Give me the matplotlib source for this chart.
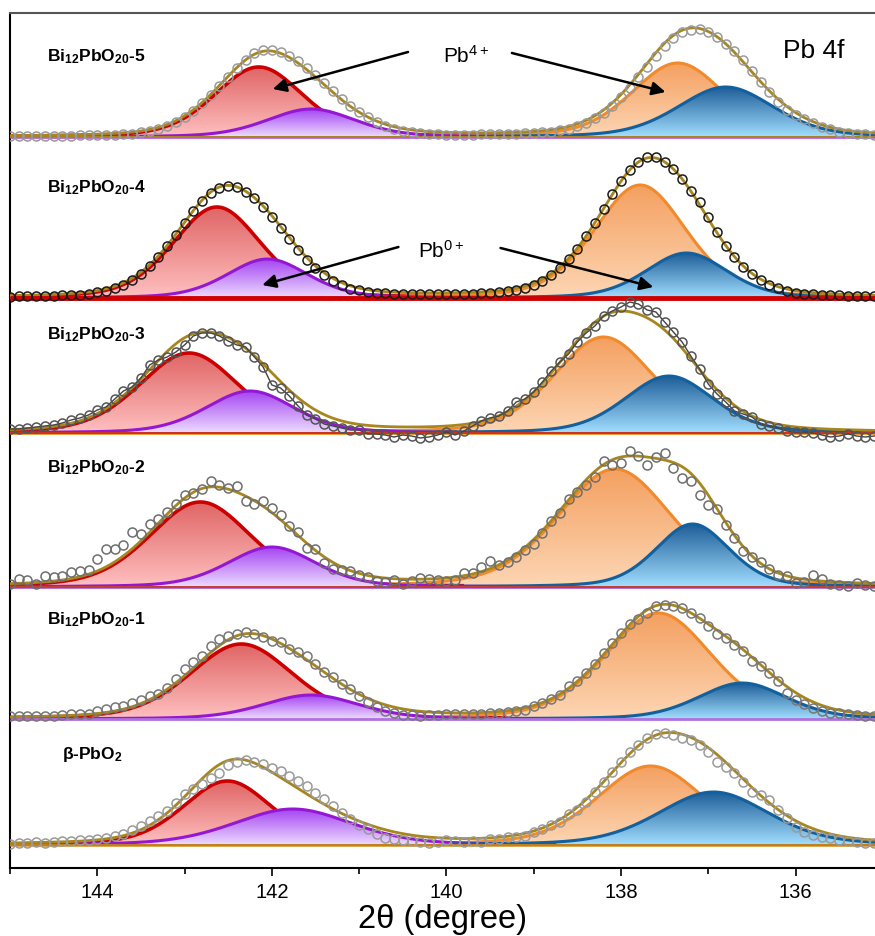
import numpy as np
import matplotlib
matplotlib.use("Agg")
import matplotlib.pyplot as plt
from matplotlib.colors import LinearSegmentedColormap
from matplotlib.patches import Polygon
from matplotlib.ticker import MultipleLocator

plt.rcParams['font.family'] = ['Liberation Sans', 'DejaVu Sans']
plt.rcParams['mathtext.fontset'] = 'custom'
plt.rcParams['mathtext.rm'] = 'Liberation Sans'
plt.rcParams['mathtext.bf'] = 'Liberation Sans:bold'
plt.rcParams['mathtext.it'] = 'Liberation Sans:italic'

# measured points, 0.1 step from 145.0 down to 135.0
energy = np.round(np.linspace(145.0, 135.0, 101), 1)

samples = [r'Bi$_{\mathbf{12}}$PbO$_{\mathbf{20}}$-5',
           r'Bi$_{\mathbf{12}}$PbO$_{\mathbf{20}}$-4',
           r'Bi$_{\mathbf{12}}$PbO$_{\mathbf{20}}$-3',
           r'Bi$_{\mathbf{12}}$PbO$_{\mathbf{20}}$-2',
           r'Bi$_{\mathbf{12}}$PbO$_{\mathbf{20}}$-1',
           r'β-PbO$_{\mathbf{2}}$']

# intensities (a.u.), one row = 1 eV
spec_5 = [1, 1, 1, 1, 1, 1, 1, 1, 2, 2,
          2, 2, 2, 3, 3, 5, 6, 8, 11, 15,
          20, 26, 34, 42, 51, 60, 69, 77, 84, 87,
          87, 85, 81, 76, 69, 62, 54, 46, 38, 31,
          25, 20, 15, 11, 8, 6, 5, 4, 3, 3,
          2, 2, 2, 2, 3, 3, 3, 3, 3, 4,
          4, 5, 5, 7, 8, 11, 14, 19, 24, 31,
          40, 49, 60, 70, 81, 91, 99, 105, 107, 108,
          105, 100, 93, 86, 77, 66, 55, 45, 35, 27,
          22, 18, 14, 10, 8, 5, 4, 3, 3, 2,
          2]
spec_4 = [1, 2, 2, 2, 2, 2, 3, 3, 3, 4,
          6, 7, 10, 13, 18, 24, 32, 41, 52, 63,
          75, 87, 97, 105, 110, 112, 111, 106, 100, 91,
          81, 70, 59, 48, 38, 30, 23, 17, 13, 9,
          8, 6, 5, 5, 4, 4, 4, 4, 4, 4,
          4, 4, 4, 4, 5, 5, 6, 7, 8, 10,
          13, 17, 23, 30, 39, 49, 62, 75, 89, 104,
          117, 128, 136, 141, 141, 136, 129, 119, 107, 96,
          81, 66, 52, 41, 31, 24, 18, 13, 10, 7,
          5, 4, 4, 3, 3, 3, 2, 2, 2, 2,
          2]
spec_3 = [4, 4, 5, 6, 7, 8, 10, 13, 15, 18,
          23, 26, 34, 42, 46, 55, 68, 73, 76, 81,
          88, 97, 100, 100, 97, 92, 88, 86, 76, 66,
          48, 45, 37, 27, 18, 14, 9, 7, 5, 3,
          3, -1, -1, -2, -4, -2, -3, -5, -4, -2,
          1, -2, 2, 7, 12, 15, 17, 22, 31, 34,
          41, 51, 62, 71, 79, 91, 100, 107, 117, 122,
          126, 131, 129, 123, 121, 111, 101, 91, 77, 64,
          49, 39, 31, 22, 19, 16, 9, 7, 5, 2,
          1, 1, 0, -2, -4, -3, -1, -3, -4, -3,
          -2]
spec_2 = [3, 8, 7, 3, 11, 10, 11, 15, 16, 17,
          28, 38, 38, 42, 55, 53, 63, 68, 75, 83,
          92, 94, 98, 106, 102, 99, 101, 86, 83, 86,
          79, 72, 61, 55, 39, 38, 24, 18, 17, 16,
          12, 10, 6, 5, 7, 3, 6, 9, 8, 7,
          6, 7, 14, 14, 20, 26, 22, 25, 30, 37,
          43, 54, 66, 74, 88, 95, 102, 110, 126, 122,
          124, 136, 131, 122, 130, 134, 119, 109, 106, 92,
          82, 78, 62, 49, 36, 30, 25, 18, 12, 11,
          4, 5, 12, 8, 3, 2, 1, 4, 2, 1,
          1]
spec_1 = [3, 3, 3, 3, 3, 3, 4, 5, 5, 5,
          8, 10, 12, 13, 16, 19, 23, 25, 31, 40,
          50, 57, 63, 73, 80, 83, 85, 87, 85, 82,
          78, 77, 70, 67, 63, 55, 47, 42, 35, 30,
          23, 17, 12, 8, 6, 4, 4, 3, 4, 4,
          5, 5, 5, 5, 5, 6, 6, 7, 8, 9,
          13, 16, 20, 24, 33, 38, 46, 55, 66, 76,
          86, 95, 100, 106, 113, 114, 113, 111, 106, 101,
          93, 85, 81, 74, 68, 58, 53, 46, 38, 26,
          19, 15, 11, 8, 6, 6, 5, 4, 3, 3,
          3]
spec_b = [1, 2, 2, 3, 2, 3, 4, 4, 5, 5,
          6, 7, 9, 11, 15, 19, 24, 29, 34, 42,
          51, 56, 61, 67, 72, 80, 83, 85, 83, 81,
          77, 74, 69, 64, 59, 52, 46, 39, 32, 26,
          20, 16, 11, 7, 6, 5, 4, 3, 2, 3,
          5, 4, 3, 4, 3, 6, 6, 8, 8, 9,
          13, 16, 20, 23, 31, 35, 43, 53, 63, 73,
          83, 93, 100, 107, 111, 112, 110, 107, 105, 100,
          93, 83, 78, 72, 63, 53, 50, 45, 35, 27,
          18, 13, 10, 8, 7, 5, 4, 3, 2, 2,
          2]
spectra = [spec_5, spec_4, spec_3, spec_2, spec_1, spec_b]

# fitted components: centre (eV), height (a.u.), FWHM (eV)
red_center = [142.15, 142.63, 142.95, 142.82, 142.35, 142.51]
red_height = [70, 91, 80, 85, 75, 64]
red_fwhm = [1.20, 1.20, 1.35, 1.38, 1.40, 1.20]
purple_center = [141.55, 142.05, 142.25, 142.00, 141.55, 141.76]
purple_height = [28, 39, 42, 40, 24, 36]
purple_fwhm = [1.20, 1.10, 1.20, 1.20, 1.30, 1.60]
orange_center = [137.35, 137.78, 138.20, 138.07, 137.57, 137.66]
orange_height = [74, 113, 96, 118, 106, 79]
orange_fwhm = [1.25, 1.25, 1.35, 1.55, 1.45, 1.45]
blue_center = [136.80, 137.25, 137.45, 137.18, 136.61, 136.94]
blue_height = [50, 45, 57, 63, 36, 53]
blue_fwhm = [1.30, 1.10, 1.20, 1.00, 1.20, 1.50]

ETA = 0.3

def pv(x, c, h, w):
    r2 = ((x - c) / w) ** 2
    g = np.exp(-4 * np.log(2) * r2)
    l = 1 / (1 + 4 * r2)
    return h * ((1 - ETA) * g + ETA * l)


def grad_fill(ax, x, y, base, top, bottom, z):
    verts = np.column_stack([np.r_[x, x[::-1]], np.r_[y, np.full_like(x, base)]])
    poly = Polygon(verts, closed=True, fc='none', ec='none')
    ax.add_patch(poly)
    cmap = LinearSegmentedColormap.from_list('g', [bottom, top])
    grad = np.linspace(0, 1, 256).reshape(-1, 1)
    im = ax.imshow(grad, cmap=cmap, aspect='auto', origin='lower',
                   extent=(x.max(), x.min(), base, y.max()), zorder=z)
    im.set_clip_path(poly)


offsets = [731, 570, 435, 281, 149, 23]
label_y = [807, 676, 529, 396, 244, 109]
label_x = [144.58, 144.58, 144.58, 144.58, 144.58, 144.40]
dot_color = ['#9a9a9a', '#1a1a1a', '#555555', '#6e6e6e', '#777777', '#9a9a9a']
base_colors = [['#c060e0', '#a8861e'], ['#d00000'], ['#e8902c', '#d03020'],
               ['#b060d0', '#c04030'], ['#b070e0'], ['#d8a040', '#c08020']]

fig = plt.figure(figsize=(8.75, 9.36), dpi=100)
ax = fig.add_axes([10 / 875, 1 - 868 / 936, 1 - 10 / 875, 855 / 936])

xf = np.linspace(145, 135, 2001)

for i in range(6):
    b = offsets[i]
    comps = [
        (red_center[i], red_height[i], red_fwhm[i], '#cc0000', '#e06565', '#ffc0c0', 2.6, 2),
        (purple_center[i], purple_height[i], purple_fwhm[i], '#9418d2', '#a545f2', '#ecdcff', 2.2, 3),
        (orange_center[i], orange_height[i], orange_fwhm[i], '#f08a2c', '#f4a060', '#fdd6b4', 2.2, 2),
        (blue_center[i], blue_height[i], blue_fwhm[i], '#12609e', '#1e5e98', '#a2deff', 2.2, 3),
    ]
    env = np.zeros_like(xf)
    for c, h, w, lc, tc, bc, lw, z in comps:
        env += pv(xf, c, h, w)
        m = np.abs(xf - c) <= 3.0
        xx = xf[m]
        yy = b + pv(xx, c, h, w)
        grad_fill(ax, xx, yy, b, tc, bc, z)
        ax.plot(xx, yy, color=lc, lw=lw, zorder=z + 0.5)

    for k, bcol in enumerate(base_colors[i]):
        ax.plot([145, 135], [b, b], color=bcol, lw=3.5 if i == 1 else 2.0 - 0.6 * k,
                zorder=4 if i != 1 else 5.5, solid_capstyle='butt')

    ax.plot(xf, b + env, color='#a8861e', lw=2.0, zorder=5)
    yd = b + np.array(spectra[i])
    if i == 2:
        ax.plot(energy, yd, '-', color='#444444', lw=1.0, zorder=5.8)
    ax.plot(energy, yd, 'o', mfc='none', mec=dot_color[i], ms=6.5, mew=1.1, zorder=6)

    ax.text(label_x[i], label_y[i], samples[i], fontsize=12.5, fontweight='bold',
            ha='left', va='baseline', zorder=10)

ax.text(136.14, 810, 'Pb 4f', fontsize=19, ha='left', va='baseline', zorder=10)
ax.text(140.04, 805, r'Pb$^{4+}$', fontsize=15, ha='left', va='baseline', zorder=10)
ax.text(140.33, 610, r'Pb$^{0+}$', fontsize=15, ha='left', va='baseline', zorder=10)

arrows = [((140.44, 816), (141.99, 779)), ((139.25, 815), (137.49, 776)),
          ((140.55, 621), (142.11, 583)), ((139.38, 620), (137.63, 581))]
for tail, head in arrows:
    ax.annotate('', xy=head, xytext=tail, zorder=10,
                arrowprops=dict(arrowstyle='-|>', color='black', lw=1.8,
                                mutation_scale=20, shrinkA=0, shrinkB=0))

ax.set_xlim(145, 135.09)
ax.set_ylim(0, 855)
ax.set_yticks([])
ax.set_xticks([144, 142, 140, 138, 136])
ax.xaxis.set_minor_locator(MultipleLocator(1))
ax.tick_params(axis='x', which='major', direction='out', length=6, width=1.2,
               labelsize=14.5, pad=5)
ax.tick_params(axis='x', which='minor', direction='out', length=4, width=1.2)
ax.spines['right'].set_visible(False)
ax.spines['top'].set_color('#555555')
for s in ['top', 'left', 'bottom']:
    ax.spines[s].set_linewidth(1.5)
ax.set_xlabel('2θ (degree)', fontsize=23.5, labelpad=1)

fig.savefig('out.png', dpi=100)
